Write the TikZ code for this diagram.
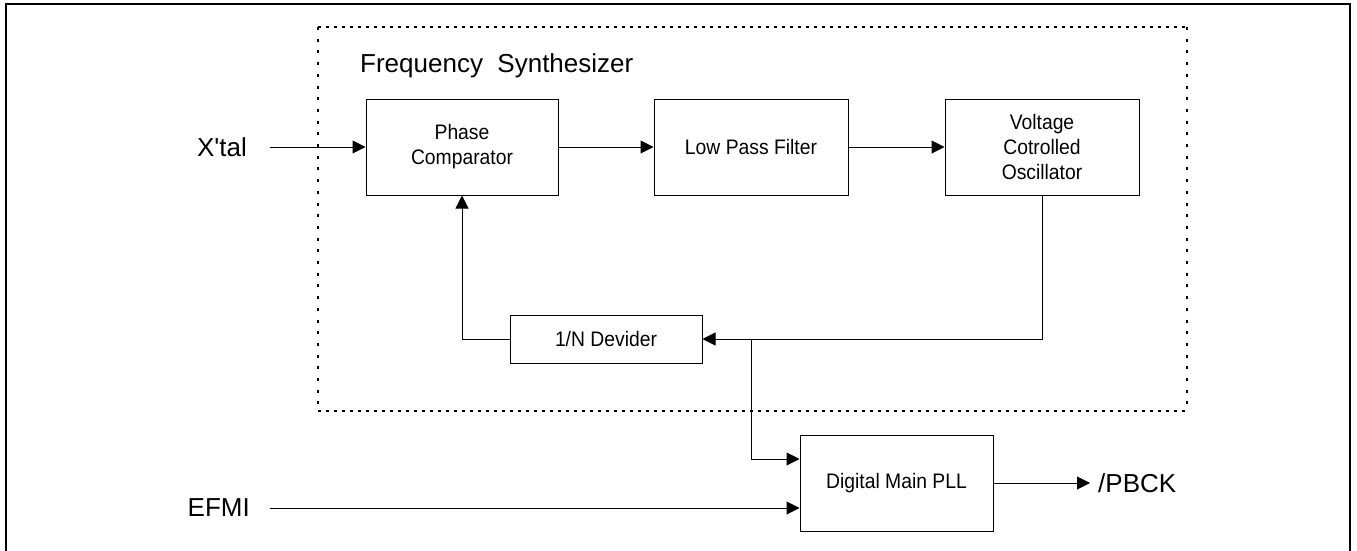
\documentclass[tikz,border=0pt]{standalone}
\usepackage{fontspec}
\setmainfont{Liberation Sans}
\newfontfamily\narrowsf[FakeStretch=0.92]{Liberation Sans}
\usetikzlibrary{arrows.meta,positioning,calc}

\begin{document}
\begin{tikzpicture}[x=1pt, y=-1pt,
    blk/.style={draw, line width=1pt, inner sep=0pt, align=center,
      font=\narrowsf\fontsize{21}{25}\selectfont},
    sig/.style={inner sep=0pt, font=\fontsize{26}{30}\selectfont},
    arr/.style={line width=1pt, -{Triangle[length=13pt, width=13pt]}}]
    \useasboundingbox (0,0) rectangle (1357,551);
    % outer frame, open at the bottom
    \draw [line width=2.2pt] (6,555) -- (6,4) -- (1350,4) -- (1350,555);
    % boundary of the synthesizer
    \draw [line width=1.8pt, dash pattern=on 2.5pt off 5.5pt]
      (318,27) -- (1187,27) (318,411) -- (1187,411);
    \draw [line width=1.8pt, dash pattern=on 3pt off 8.7pt]
      (318,27) -- (318,411) (1187,27) -- (1187,411);
    \node [sig, anchor=base west] (title) at (360,72) {Frequency\ \ Synthesizer};

    \node [blk, minimum width=192pt, minimum height=96pt] (pc) at (462,147)
      {Phase\\Comparator};
    \node [blk, minimum width=194pt, minimum height=96pt] (lpf) at (751,147)
      {Low Pass Filter};
    \node [blk, minimum width=194pt, minimum height=96pt] (vco) at (1042,147)
      {Voltage\\Cotrolled\\Oscillator};
    \node [blk, minimum width=192pt, minimum height=48pt] (div) at (606,339)
      {1/N Devider};
    \node [blk, minimum width=193pt, minimum height=96pt] (pll) at (896.5,483)
      {Digital Main PLL};

    \node [sig, anchor=east] (xtal) at (247,147) {X\textquotesingle tal};
    \node [sig, anchor=east] (efmi) at (250,508) {EFMI};
    \node [sig, anchor=west] (pbck) at (1098,483) {/PBCK};
    \coordinate (tap) at (751,339);

    \draw [arr] ([xshift=23pt]xtal.east) -- (pc.west);
    \draw [arr] (pc) -- (lpf);
    \draw [arr] (lpf) -- (vco);
    \draw [arr] (vco.south) |- (div.east);
    \draw [arr] (div.west) -| (pc.south);
    \draw [arr] (tap) |- ([yshift=24pt]pll.west);
    \draw [arr] ([xshift=20pt]efmi.east) -- (efmi.east -| pll.west);
    \draw [arr] (pll.east) -- ([xshift=-8pt]pbck.west);
\end{tikzpicture}
\end{document}
